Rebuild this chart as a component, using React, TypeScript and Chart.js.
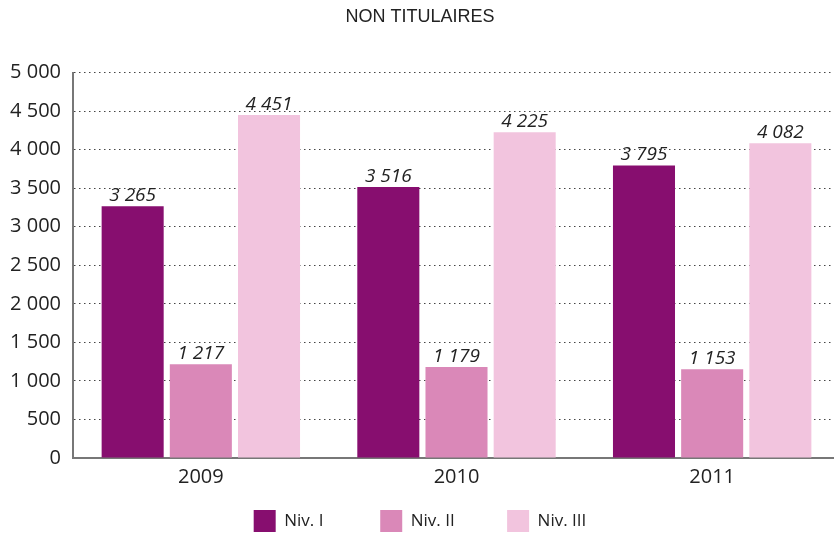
import React, { useEffect, useRef } from "react";
import { Chart, registerables } from "chart.js";

Chart.register(...registerables);

const categories = ["2009", "2010", "2011"];
const nivI = [3265, 3516, 3795];
const nivII = [1217, 1179, 1153];
const nivIII = [4451, 4225, 4082];
const seriesNames = ["Niv. I", "Niv. II", "Niv. III"];
const legendSpacers = ["\u2003\u2003  ", "\u2003\u2003 ", ""];
const seriesColors = ["#870E6F", "#DA88B8", "#F2C4DE"];
const yTicks = [0, 500, 1000, 1500, 2000, 2500, 3000, 3500, 4000, 4500, 5000];
const title = "NON TITULAIRES";

const fmt = (v: number) => String(v).replace(/\B(?=(\d{3})+(?!\d))/g, " ");

const FONT = "'Open Sans', 'Noto Sans', sans-serif";

const valueLabels = {
  id: "valueLabels",
  afterDatasetsDraw(chart: any) {
    const ctx = chart.ctx;
    ctx.save();
    ctx.font = `italic 19px ${FONT}`;
    ctx.fillStyle = "#222";
    ctx.textAlign = "center";
    ctx.textBaseline = "bottom";
    chart.data.datasets.forEach((ds: any, i: number) => {
      const meta = chart.getDatasetMeta(i);
      meta.data.forEach((bar: any, j: number) => {
        ctx.fillText(fmt(ds.data[j]), bar.x, bar.y - 1);
      });
    });
    ctx.restore();
  },
};

export default function App() {
  const ref = useRef<HTMLCanvasElement>(null);
  useEffect(() => {
    if (!ref.current) return;
    const chart = new Chart(ref.current, {
      type: "bar",
      data: {
        labels: categories,
        datasets: [nivI, nivII, nivIII].map((d, i) => ({
          label: seriesNames[i],
          data: d,
          backgroundColor: seriesColors[i],
          borderWidth: 0,
          categoryPercentage: 0.8,
          barPercentage: 0.91,
        })),
      },
      options: {
        responsive: false,
        animation: false,
        devicePixelRatio: 1,
        layout: { padding: { left: 0, right: 6, top: 0, bottom: 0 } },
        plugins: {
          title: {
            display: true,
            text: title,
            color: "#222",
            font: { family: "'Liberation Sans', Arial, sans-serif", size: 18, weight: "normal" },
            padding: { top: 6, bottom: 45 },
          },
          legend: {
            position: "bottom",
            labels: {
              boxWidth: 22,
              boxHeight: 22,
              padding: 14,
              color: "#222",
              font: { family: FONT, size: 17 },
              generateLabels: (chart: any) =>
                chart.data.datasets.map((ds: any, i: number) => ({
                  text: seriesNames[i] + legendSpacers[i],
                  fillStyle: seriesColors[i],
                  strokeStyle: seriesColors[i],
                  lineWidth: 0,
                  hidden: false,
                  datasetIndex: i,
                  fontColor: "#222",
                })),
            },
          },
          tooltip: { enabled: false },
        },
        scales: {
          x: {
            grid: { display: false, drawTicks: false },
            border: { display: true, color: "#777", width: 2 },
            ticks: { color: "#222", font: { family: FONT, size: 20 }, padding: 7 },
          },
          y: {
            min: 0,
            max: 5000,
            afterFit: (s: any) => {
              s.width = 73;
            },
            afterBuildTicks: (s: any) => {
              s.ticks = yTicks.map((v) => ({ value: v }));
            },
            grid: { color: "#444", lineWidth: 1, drawTicks: false },
            border: { display: true, color: "#777", width: 2, dash: [1.5, 3.5] },
            ticks: {
              color: "#222",
              font: { family: FONT, size: 20 },
              padding: 12,
              callback: (v: any) => fmt(Number(v)),
            },
          },
        },
      },
      plugins: [valueLabels],
    });
    return () => chart.destroy();
  }, []);
  return (
    <div style={{ position: "absolute", left: 0, top: 0, width: 834, height: 534, overflow: "hidden", background: "#fff" }}>
      <canvas ref={ref} width={846} height={542} />
    </div>
  );
}
